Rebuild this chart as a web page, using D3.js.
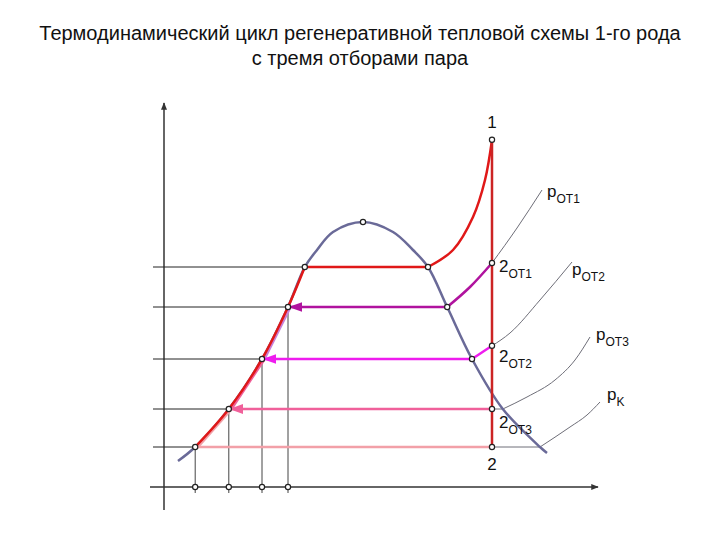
<!DOCTYPE html>
<html><head><meta charset="utf-8">
<script src="https://cdn.jsdelivr.net/npm/d3@7"></script>
<style>body{margin:0;background:#fff} svg{display:block}</style>
</head><body><svg id="c" width="720" height="540"></svg>
<script>
// ---------- data (entropy s, temperature T, arbitrary units) ----------
const titleLines = ["Термодинамический цикл регенеративной тепловой схемы 1-го рода", "с тремя отборами пара"];

// saturation dome
const domeS = [0.35, 0.78, 1.62, 2.45, 3.10, 3.52, 3.825, 4.225, 4.975, 5.725, 6.225, 6.60, 7.08, 7.70, 8.47, 9.40, 9.575];
const domeT = [0.65, 1.00, 1.95, 3.20, 4.50, 5.50, 5.925, 6.375, 6.625, 6.375, 5.925, 5.50, 4.50, 3.20, 1.95, 1.00, 0.85];

// pressure levels: pK, pOT3, pOT2, pOT1, boiler
const levelT  = [1.00, 1.95, 3.20, 4.50, 5.50];
const liquidS = [0.78, 1.62, 2.45, 3.10, 3.52];
const vaporS  = [9.40, 8.47, 7.70, 7.08, 6.60];

// turbine expansion 1-2
const turbineS = 8.2;
const point1T = 8.68;
const pointNames = ["2", "2OT3", "2OT2", "2OT1"];
const turbineT = [1.00, 1.95, 3.53, 5.60];

// superheating
const superS = [6.60, 7.225, 7.725, 8.025, 8.20];
const superT = [5.50, 5.925, 6.75, 7.675, 8.68];

// extraction steam lines above the dome
const ot1S = [8.20, 7.65, 7.08];
const ot1T = [5.60, 5.00, 4.50];
const ot2S = [8.20, 7.70];
const ot2T = [3.53, 3.20];

// isobars beyond the turbine line (superheated part, starting at the dome or turbine line)
const isoNames = ["pK", "pOT3", "pOT2", "pOT1"];
const pKS   = [9.40, 10.15, 10.575, 10.90];
const pKT   = [1.00, 1.50, 1.80, 2.125];
const pOT3S = [8.47, 9.075, 9.775, 10.275, 10.65];
const pOT3T = [1.95, 2.25, 2.675, 3.175, 3.75];
const pOT2S = [8.20, 8.65, 9.40, 10.20];
const pOT2T = [3.53, 3.85, 4.675, 5.625];
const pOT1S = [8.20, 8.825, 9.45];
const pOT1T = [5.60, 6.475, 7.425];

// ---------- drawing ----------
const svg = d3.select("#c");
const x = d3.scaleLinear().domain([0, 10.85]).range([164, 598]);
const y = d3.scaleLinear().domain([0, 9.6]).range([487, 103]);
const zip = (S, T) => S.map((s, i) => [s, T[i]]);
const smooth = d3.line().x(d => x(d[0])).y(d => y(d[1])).curve(d3.curveCatmullRom.alpha(0.5));
const mono = d3.line().x(d => x(d[0])).y(d => y(d[1])).curve(d3.curveMonotoneX);
const straight = d3.line().x(d => x(d[0])).y(d => y(d[1]));

const FONT = "'Liberation Sans', Arial, sans-serif";

// title
svg.selectAll("text.title").data(titleLines).join("text")
  .attr("class", "title")
  .attr("x", 360).attr("y", (d, i) => 40 + i * 25)
  .attr("text-anchor", "middle")
  .attr("font-family", FONT).attr("font-size", 20).attr("fill", "#111")
  .text(d => d);

// arrow markers
const defs = svg.append("defs");
function marker(id, color) {
  defs.append("marker").attr("id", id)
    .attr("viewBox", "0 0 14 10").attr("refX", 12).attr("refY", 5)
    .attr("markerWidth", 14).attr("markerHeight", 10)
    .attr("markerUnits", "userSpaceOnUse").attr("orient", "auto")
    .append("path").attr("d", "M0,0 L14,5 L0,10 Z").attr("fill", color);
}
const cOT1 = "#b0139e", cOT2 = "#ee1cee", cOT3 = "#f0609a", cK = "#f2a0a8";
marker("aOT1", cOT1); marker("aOT2", cOT2); marker("aOT3", cOT3);

// axes
const axisColor = "#333";
defs.append("marker").attr("id", "axArrow")
  .attr("viewBox", "0 0 10 8").attr("refX", 9).attr("refY", 4)
  .attr("markerWidth", 8).attr("markerHeight", 6)
  .attr("markerUnits", "userSpaceOnUse").attr("orient", "auto")
  .append("path").attr("d", "M0,0 L10,4 L0,8 Z").attr("fill", axisColor);
svg.append("path").attr("d", straight([[0, -0.575], [0, 9.6]]))
  .attr("stroke", axisColor).attr("stroke-width", 1.5).attr("fill", "none")
  .attr("marker-end", "url(#axArrow)");
svg.append("path").attr("d", straight([[-0.35, 0], [10.85, 0]]))
  .attr("stroke", axisColor).attr("stroke-width", 1.5).attr("fill", "none")
  .attr("marker-end", "url(#axArrow)");

// guide lines
const guide = svg.append("g").attr("stroke", "#222").attr("stroke-width", 1).attr("fill", "none");
levelT.forEach((t, i) => {
  guide.append("path").attr("d", straight([[-0.275, t], [liquidS[i], t]]));
});
liquidS.slice(0, 4).forEach((s, i) => {
  guide.append("path").attr("d", straight([[s, levelT[i]], [s, -0.15]])).attr("stroke", "#444");
});

// isobars (thin gray): wet part straight from the turbine line to the dome, then curved
const isoColor = "#6e6e78";
const isoData = [zip(pKS, pKT), zip(pOT3S, pOT3T), zip(pOT2S, pOT2T), zip(pOT1S, pOT1T)];
const isoG = svg.append("g").attr("fill", "none").attr("stroke", isoColor).attr("stroke-width", 1);
isoG.append("path").attr("d", straight([[turbineS, levelT[0]], [pKS[0], pKT[0]]]));
isoG.append("path").attr("d", straight([[turbineS, levelT[1]], [pOT3S[0], pOT3T[0]]]));
isoG.selectAll("path.iso").data(isoData).join("path").attr("class", "iso").attr("d", mono);

// dome
svg.append("path").attr("d", smooth(zip(domeS, domeT)))
  .attr("fill", "none").attr("stroke", "#6a6a98").attr("stroke-width", 2.5);

// feed water heating overlays along the liquid line
const liquidPts = zip(liquidS, levelT);
const overlayColors = [cK, cOT3, "#c880d8"];
[0, 1, 2].forEach(i => {
  const seg = zip(domeS, domeT).filter(d => d[0] >= liquidS[i] - 1e-9 && d[0] <= liquidS[i + 1] + 1e-9);
  svg.append("path").attr("d", smooth(seg)).attr("transform", "translate(2,1)")
    .attr("fill", "none").attr("stroke", overlayColors[i]).attr("stroke-width", 2.5);
});

// condensation line 2 -> liquid
svg.append("path").attr("d", straight([[turbineS, levelT[0]], [liquidS[0], levelT[0]]]))
  .attr("stroke", cK).attr("stroke-width", 2.5).attr("fill", "none");
// OT3
svg.append("path").attr("d", straight([[turbineS, levelT[1]], [liquidS[1] + 0.06, levelT[1]]]))
  .attr("stroke", cOT3).attr("stroke-width", 2.5).attr("fill", "none").attr("marker-end", "url(#aOT3)");
// OT2
svg.append("path").attr("d", smooth(zip(ot2S, ot2T)))
  .attr("stroke", cOT2).attr("stroke-width", 2.5).attr("fill", "none");
svg.append("path").attr("d", straight([[vaporS[2], levelT[2]], [liquidS[2] + 0.06, levelT[2]]]))
  .attr("stroke", cOT2).attr("stroke-width", 2.5).attr("fill", "none").attr("marker-end", "url(#aOT2)");
// OT1
svg.append("path").attr("d", smooth(zip(ot1S, ot1T)))
  .attr("stroke", cOT1).attr("stroke-width", 2.5).attr("fill", "none");
svg.append("path").attr("d", straight([[vaporS[3], levelT[3]], [liquidS[3] + 0.06, levelT[3]]]))
  .attr("stroke", cOT1).attr("stroke-width", 2.5).attr("fill", "none").attr("marker-end", "url(#aOT1)");

// red cycle line
const red = "#e01818";
const liqSeg = zip(domeS, domeT).filter(d => d[0] >= liquidS[0] - 1e-9 && d[0] <= liquidS[4] + 1e-9);
svg.append("path").attr("d", smooth(liqSeg)).attr("fill", "none").attr("stroke", red).attr("stroke-width", 2.5);
svg.append("path").attr("d", straight([[liquidS[4], levelT[4]], [vaporS[4], levelT[4]]]))
  .attr("fill", "none").attr("stroke", red).attr("stroke-width", 2.5);
svg.append("path").attr("d", smooth(zip(superS, superT))).attr("fill", "none").attr("stroke", red).attr("stroke-width", 2.5);
svg.append("path").attr("d", straight([[turbineS, point1T], [turbineS, turbineT[0]]]))
  .attr("fill", "none").attr("stroke", "#cc2424").attr("stroke-width", 2.5);

// points
const pts = [];
liquidPts.forEach(p => pts.push(p));
pts.push([domeS[8], domeT[8]]);
vaporS.slice(2).forEach((s, i) => pts.push([s, levelT[i + 2]]));
pts.push([turbineS, point1T]);
turbineT.forEach(t => pts.push([turbineS, t]));
liquidS.slice(0, 4).forEach(s => pts.push([s, 0]));
svg.append("g").selectAll("circle").data(pts).join("circle")
  .attr("cx", d => x(d[0])).attr("cy", d => y(d[1])).attr("r", 2.6)
  .attr("fill", "#fff").attr("stroke", "#222").attr("stroke-width", 1.2);

// labels
function label(px, py, main, sub, anchor) {
  const t = svg.append("text").attr("x", px).attr("y", py)
    .attr("font-family", FONT).attr("font-size", 17).attr("fill", "#111")
    .attr("text-anchor", anchor || "start");
  t.append("tspan").text(main);
  if (sub) t.append("tspan").attr("font-size", 12).attr("dy", 6).text(sub);
}
label(x(turbineS), y(point1T) - 12, "1", null, "middle");
label(x(turbineS), y(turbineT[0]) + 23, "2", null, "middle");
label(x(turbineS) + 7, y(turbineT[3]) + 9, "2", "OT1");
label(x(turbineS) + 7, y(turbineT[2]) + 16, "2", "OT2");
label(x(turbineS) + 7, y(turbineT[1]) + 19, "2", "OT3");
const isoEnd = isoData.map(a => a[a.length - 1]);
const isoOff = [[7, -2], [6, 3], [0, 13], [5, 7]];
isoEnd.forEach((e, i) => {
  label(x(e[0]) + isoOff[i][0], y(e[1]) + isoOff[i][1], "p", isoNames[i].slice(1));
});
</script></body></html>
